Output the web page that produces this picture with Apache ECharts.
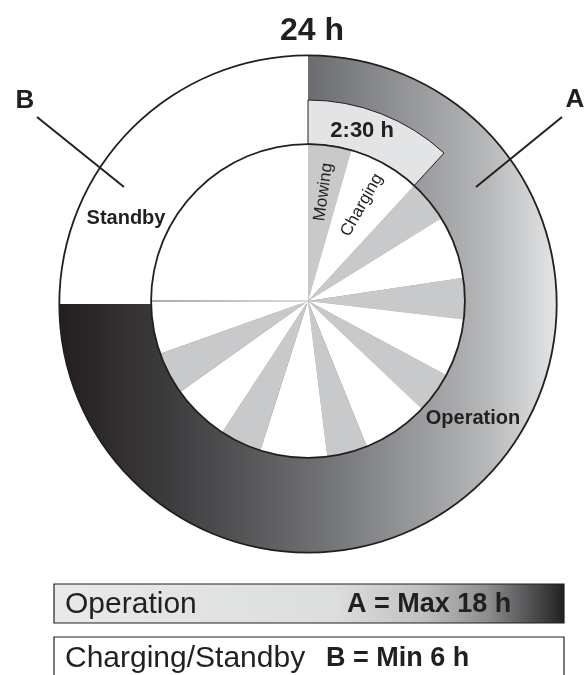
<!DOCTYPE html>
<html>
<head>
    <meta charset="utf-8">
    <title>24 h</title>
    <script src="https://cdn.jsdelivr.net/npm/echarts@6/dist/echarts.min.js"></script>
    <style>
        html, body {margin:0;padding:0;background:#fff;}
        #chart {width:586px;height:675px;}
    </style>
</head>
<body>
<div id="chart"></div>
<script>
    // one day, split in operation (A) and charging/standby (B)
    const dayHours = 24;
    const operationHours = 18;
    const standbyHours = 6;
    // inner wheel: mowing / charging pairs (hours)
    const mowingHours   = [1.07, 1.04, 1.02, 1.02, 1.00, 1.03, 1.05];
    const chargingHours = [1.77, 1.55, 1.43, 1.63, 1.65, 1.43, 1.31];
    const cycleLabel = '2:30 h';
    const legendRows = ['Operation', 'Charging/Standby'];
    const legendValues = ['A = Max 18 h', 'B = Min 6 h'];

    const ink = '#231f20';
    const fam = '"Liberation Sans", Arial, Helvetica, sans-serif';
    const CX = 308, CY = 301;

    const ringGrad = {
        type: 'linear', x: 59, y: 0, x2: 557, y2: 0, global: true,
        colorStops: [
            {offset: 0, color: '#231f20'},
            {offset: 0.24, color: '#3f3e40'},
            {offset: 0.52, color: '#6f7073'},
            {offset: 0.86, color: '#b6b7b9'},
            {offset: 1, color: '#e4e5e6'}
        ]
    };
    const legendGrad = new echarts.graphic.LinearGradient(0, 0, 1, 0, [
        {offset: 0, color: '#e8e9ea'},
        {offset: 0.55, color: '#dcdddd'},
        {offset: 0.72, color: '#c0c1c2'},
        {offset: 0.85, color: '#8c8d8f'},
        {offset: 0.95, color: '#454446'},
        {offset: 1, color: '#231f20'}
    ]);
    const sepGrad = new echarts.graphic.LinearGradient(0, 0, 1, 0, [
        {offset: 0, color: '#555'},
        {offset: 1, color: '#bbb'}
    ]);

    // inner wheel slices
    const wheel = [];
    mowingHours.forEach(function (m, i) {
        wheel.push({value: m, name: 'Mowing', itemStyle: {color: '#c8c9cb'}});
        wheel.push({value: chargingHours[i], name: 'Charging', itemStyle: {color: '#fff'}});
    });
    wheel.push({value: standbyHours, name: 'Standby', itemStyle: {color: '#fff'}});

    const firstCycle = mowingHours[0] + chargingHours[0];

    const base = {
        type: 'pie', silent: true, startAngle: 90, clockwise: true,
        label: {show: false}, labelLine: {show: false},
        emphasis: {disabled: true}, animation: false,
        itemStyle: {borderWidth: 0}
    };

    function txt(x, y, text, font, align) {
        return {type: 'text', z: 100, style: {x: x, y: y, text: text, font: font, fill: ink,
            align: align || 'center', verticalAlign: 'middle',
            textAlign: align || 'center', textVerticalAlign: 'middle'}};
    }

    const chart = echarts.init(document.getElementById('chart'), null, {renderer: 'canvas'});
    chart.setOption({
        backgroundColor: '#fff',
        animation: false,
        title: {
            text: '24 h', left: 307, top: 10, textAlign: 'center',
            textStyle: {fontSize: 32, fontWeight: 'bold', fontFamily: fam, color: ink}
        },
        series: [
            // outer ring A / B
            Object.assign({}, base, {
                center: [308, 304], radius: [0, 249],
                data: [
                    {value: operationHours, name: 'A', itemStyle: {color: ringGrad, borderWidth: 0}},
                    {value: standbyHours, name: 'B', itemStyle: {color: '#fff', borderWidth: 0}}
                ]
            }),
            // outer outline
            Object.assign({}, base, {
                center: [308, 304], radius: [247.8, 249.6],
                data: [{value: dayHours, itemStyle: {color: ink, borderWidth: 0}}]
            }),
            // 2:30 h cycle box
            Object.assign({}, base, {
                center: [CX, CY], radius: [157, 201],
                data: [
                    {value: firstCycle, itemStyle: {color: '#e3e4e5', borderColor: ink, borderWidth: 1},
                        label: {show: true, position: 'inside', formatter: cycleLabel,
                            fontSize: 22, fontWeight: 'bold', fontFamily: fam, color: ink,
                            padding: [0, 24, 0, 0]}},
                    {value: dayHours - firstCycle, itemStyle: {color: 'rgba(0,0,0,0)', borderWidth: 0}}
                ]
            }),
            // inner wheel
            Object.assign({}, base, {
                center: [CX, CY], radius: [0, 157],
                data: wheel
            }),
            // inner outline
            Object.assign({}, base, {
                center: [CX, CY], radius: [156, 157.8],
                data: [{value: dayHours, itemStyle: {color: ink, borderWidth: 0}}]
            }),
            // labels for the first cycle
            Object.assign({}, base, {
                center: [CX, CY], radius: [0, 214],
                itemStyle: {color: 'rgba(0,0,0,0)', borderWidth: 0},
                data: [
                    {value: mowingHours[0], label: {show: true, formatter: 'Mowing'}},
                    {value: chargingHours[0], label: {show: true, formatter: 'Charging'}},
                    {value: dayHours - firstCycle, label: {show: false}}
                ],
                label: {show: true, position: 'inside', rotate: 'radial',
                    fontSize: 17, fontFamily: fam, color: ink}
            })
        ],
        graphic: [
            // separator between wheel and standby part
            {type: 'line', z: 100, shape: {x1: 152, y1: CY, x2: CX, y2: CY}, style: {stroke: sepGrad, lineWidth: 1}},
            // callouts
            {type: 'line', z: 100, shape: {x1: 37, y1: 117, x2: 124, y2: 187}, style: {stroke: ink, lineWidth: 2}},
            {type: 'line', z: 100, shape: {x1: 562, y1: 117, x2: 476, y2: 187}, style: {stroke: ink, lineWidth: 2}},
            txt(25, 101, 'B', 'bold 26px ' + fam),
            txt(575, 100, 'A', 'bold 26px ' + fam),
            txt(126, 218, 'Standby', 'bold 20px ' + fam),
            txt(473, 418, 'Operation', 'bold 20px ' + fam),
            // legend
            {type: 'rect', z: 100, shape: {x: 54, y: 584, width: 510, height: 39},
                style: {fill: legendGrad, stroke: ink, lineWidth: 1.2}},
            {type: 'rect', z: 100, shape: {x: 54, y: 637, width: 510, height: 60},
                style: {fill: '#fff', stroke: ink, lineWidth: 1.2}},
            txt(65, 605, legendRows[0], '30px ' + fam, 'left'),
            txt(347, 605, legendValues[0], 'bold 27px ' + fam, 'left'),
            txt(65, 659, legendRows[1], '30px ' + fam, 'left'),
            txt(326, 659, legendValues[1], 'bold 27px ' + fam, 'left')
        ]
    });
</script>
</body>
</html>
